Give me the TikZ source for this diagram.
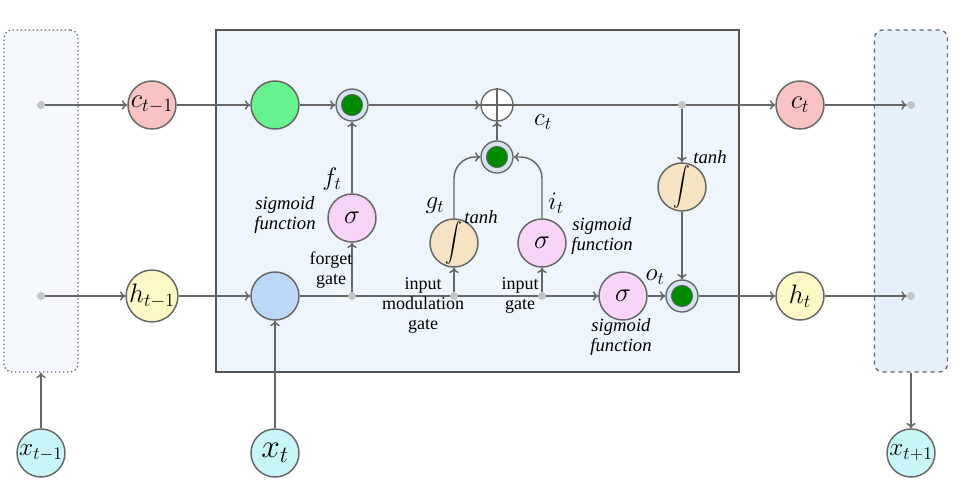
\RequirePackage{fix-cm}
\documentclass[tikz,border=0pt]{standalone}
\usepackage{fontspec}
\setmainfont{Liberation Serif}
\usetikzlibrary{arrows.meta}
\definecolor{lc}{HTML}{666666}
\definecolor{boxc}{HTML}{555555}
\definecolor{mainfill}{HTML}{EEF5FC}
\definecolor{lfill}{HTML}{F5F9FD}
\definecolor{rfill}{HTML}{E6F0FB}
\definecolor{cpink}{HTML}{F9C3C3}
\definecolor{lgreen}{HTML}{66F28C}
\definecolor{hyel}{HTML}{FCF9C4}
\definecolor{bblue}{HTML}{BCD8F8}
\definecolor{xcyan}{HTML}{C8F6F8}
\definecolor{spink}{HTML}{F8D5F8}
\definecolor{twheat}{HTML}{F5E3C2}
\definecolor{dgreen}{HTML}{008A00}
\definecolor{ringc}{HTML}{D5E3F0}
\definecolor{dotc}{HTML}{C4C4C4}
\newcommand{\lstmint}{\scalebox{1.25}[1.45]{$\displaystyle\int$}}
\tikzset{
  conn/.style={draw=lc, line width=1.1pt, -{To[length=4pt,width=7pt]}},
  plainline/.style={draw=lc, line width=1.1pt},
  bignode/.style={circle, draw=lc, line width=1.1pt, minimum size=36pt, inner sep=0pt, font=\fontsize{20}{22}\selectfont},
  multnode/.style={circle, draw=lc, line width=1pt, fill=ringc, minimum size=24pt, inner sep=0pt},
  multcore/.style={circle, draw=lc, line width=0.6pt, fill=dgreen, minimum size=16pt, inner sep=0pt},
  plusnode/.style={circle, draw=lc, line width=1pt, fill=white, minimum size=24pt, inner sep=0pt},
  dotnode/.style={circle, fill=dotc, minimum size=6pt, inner sep=0pt},
  smalllab/.style={font=\fontsize{14}{15}\selectfont\itshape, align=center, inner sep=0pt},
  gatelab/.style={font=\fontsize{13.5}{15}\selectfont, align=center, inner sep=0pt},
  mathlab/.style={font=\fontsize{19}{21}\selectfont, inner sep=0pt}
}
\begin{document}
\begin{tikzpicture}[x=0.75pt,y=-0.75pt]
\useasboundingbox (0,0) rectangle (960,486);
% boxes
\node (lbox) [draw=lc, line width=1pt, dotted, fill=lfill, rounded corners=6pt, minimum width=55.5pt, minimum height=256.5pt, inner sep=0pt] at (41,201) {};
\node (rbox) [draw=lc, line width=1pt, dashed, fill=rfill, rounded corners=6pt, minimum width=54.75pt, minimum height=256.5pt, inner sep=0pt] at (911,201) {};
\node (mbox) [draw=boxc, line width=1.5pt, fill=mainfill, minimum width=392.25pt, minimum height=256.5pt, inner sep=0pt] at (477.5,201) {};

% top row nodes
\node (dl1) [dotnode] at (41,105) {};
\node (ctm1) [bignode, fill=cpink] at (152,105) {$c_{t-1}$};
\node (gr) [bignode, fill=lgreen] at (275,105) {};
\node (fmult) [multnode] at (352,105) {};
\node [multcore] at (fmult) {};
\node (plus) [plusnode] at (497,105) {};
\node (ct) [bignode, fill=cpink] at (800,105) {$c_t$};
\node (dr1) [dotnode] at (911,105) {};

% bottom row nodes
\node (dl2) [dotnode] at (41,296) {};
\node (htm1) [bignode, fill=hyel] at (152,296) {$h_{t-1}$};
\node (bl) [bignode, fill=bblue] at (275,296) {};
\node (sigo) [bignode, fill=spink] at (623,296) {$\sigma$};
\node (omult) [multnode] at (682,296) {};
\node [multcore] at (omult) {};
\node (ht) [bignode, fill=hyel] at (800,296) {$h_t$};
\node (dr2) [dotnode] at (911,296) {};

% gates
\node (sigf) [bignode, fill=spink] at (352,218) {$\sigma$};
\node (tanhg) [bignode, fill=twheat] at (454,243) {\lstmint};
\node (sigi) [bignode, fill=spink] at (542,243) {$\sigma$};
\node (imult) [multnode] at (497,157) {};
\node [multcore] at (imult) {};
\node (tanho) [bignode, fill=twheat] at (682,187) {\lstmint};

% x nodes
\node (xtm1) [bignode, fill=xcyan, font=\fontsize{19}{21}\selectfont] at (41,453) {$x_{t-1}$};
\node (xt) [bignode, fill=xcyan, font=\fontsize{25}{27}\selectfont] at (275,453) {$x_t$};
\node (xtp1) [bignode, fill=xcyan, font=\fontsize{19}{21}\selectfont] at (911,453) {$x_{t+1}$};

% top connectors
\draw[conn] (dl1) -- (ctm1);
\draw[conn] (ctm1) -- (gr);
\draw[conn] (gr) -- (fmult);
\draw[conn] (fmult) -- (plus);
\draw[plainline] (plus.north) -- (plus.south);
\draw[plainline] (plus.west) -- (plus.east);
\draw[conn] (plus) -- (ct);
\draw[conn] (ct) -- (dr1);
\node (dtop) [dotnode] at (682,105) {};
\draw[conn] (dtop) -- (tanho);
\draw[conn] (tanho) -- (omult);

% bottom connectors
\draw[conn] (dl2) -- (htm1);
\draw[conn] (htm1) -- (bl);
\draw[conn] (bl) -- (sigo);
\draw[conn] (sigo) -- (omult);
\draw[conn] (omult) -- (ht);
\draw[conn] (ht) -- (dr2);
\node (df) [dotnode] at (352,296) {};
\node (dg) [dotnode] at (454,296) {};
\node (di) [dotnode] at (542,296) {};
\draw[conn] (df) -- (sigf);
\draw[conn] (dg) -- (tanhg);
\draw[conn] (di) -- (sigi);
\draw[conn] (sigf) -- (fmult);
\draw[conn, rounded corners=16pt] (tanhg.north) |- (imult.west);
\draw[conn, rounded corners=16pt] (sigi.north) |- (imult.east);
\draw[conn] (imult) -- (plus);

% x connectors
\draw[conn] (xtm1) -- (lbox.south);
\draw[conn] (xt) -- (bl);
\draw[conn] (rbox.south) -- (xtp1);

% labels
\node (lft) [mathlab] at (332,179) {$f_t$};
\node (lsf1) [smalllab] at (285,215) {sigmoid\\function};
\node (lfg) [gatelab] at (331,270) {forget\\gate};
\node (lgt) [mathlab] at (435,206) {$g_t$};
\node (ltanh1) [smalllab] at (481,217) {tanh};
\node (lit) [mathlab] at (556,203) {$i_t$};
\node (lsf2) [smalllab] at (602,236) {sigmoid\\function};
\node (limg) [gatelab] at (423,305) {input\\modulation\\gate};
\node (lig) [gatelab] at (520,295) {input\\gate};
\node (lot) [mathlab] at (655,277) {$o_t$};
\node (lsf3) [smalllab] at (621,337) {sigmoid\\function};
\node (ltanh2) [smalllab] at (710,157) {tanh};
\node (lct) [mathlab] at (543,122) {$c_t$};
\end{tikzpicture}
\end{document}
